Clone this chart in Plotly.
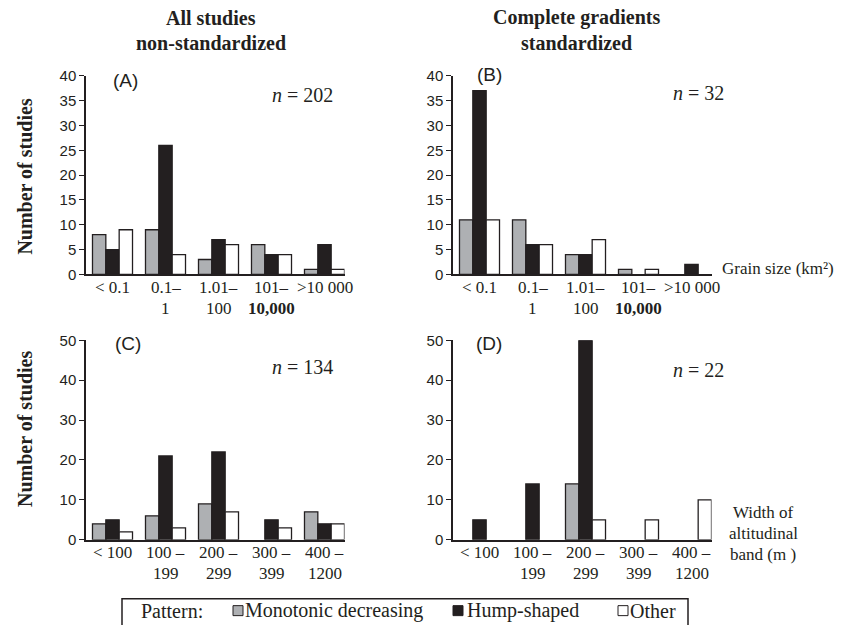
import plotly.graph_objects as go

# ---------------- data ----------------
grain_cats = ["< 0.1", "0.1–", "1.01–", "101–", ">10 000"]
grain_cats_line2 = ["", "1", "100", "<b>10,000</b>", ""]
band_cats = ["< 100", "100 –", "200 –", "300 –", "400 –"]
band_cats_line2 = ["", "199", "299", "399", "1200"]

series_names = ["Monotonic decreasing", "Hump-shaped", "Other"]

A_mono = [8, 9, 3, 6, 1]
A_hump = [5, 26, 7, 4, 6]
A_other = [9, 4, 6, 4, 1]

B_mono = [11, 11, 4, 1, 0]
B_hump = [37, 6, 4, 0, 2]
B_other = [11, 6, 7, 1, 0]

C_mono = [4, 6, 9, 0, 7]
C_hump = [5, 21, 22, 5, 4]
C_other = [2, 3, 7, 3, 4]

D_mono = [0, 0, 14, 0, 0]
D_hump = [5, 14, 50, 0, 0]
D_other = [0, 0, 5, 5, 10]

n_labels = ["202", "32", "134", "22"]
panel_labels = ["(A)", "(B)", "(C)", "(D)"]

# ---------------- style ----------------
W, H = 847, 625
GRAY = "#aeb0b3"
BLACK = "#231f20"
WHITE = "#ffffff"
colors = [GRAY, BLACK, WHITE]
SERIF = "Liberation Serif, Times New Roman, serif"
SANS = "Liberation Sans, Arial, sans-serif"
BARGAP = 0.245

# vertical calibration of the page capture
Y_OFF, Y_SCALE = 8.0, 0.975


def fx(x):
    return x / W


def fy(y):
    return 1 - ((y - Y_OFF) / Y_SCALE) / H


fig = go.Figure()

panels = [
    ("x", "y", grain_cats, grain_cats_line2, [A_mono, A_hump, A_other], 274),
    ("x2", "y2", grain_cats, grain_cats_line2, [B_mono, B_hump, B_other], 274),
    ("x3", "y3", band_cats, band_cats_line2, [C_mono, C_hump, C_other], 540),
    ("x4", "y4", band_cats, band_cats_line2, [D_mono, D_hump, D_other], 540),
]

ann = []


def text(x, y, t, size=15, family=SERIF, angle=0, xanchor="center"):
    ann.append(dict(x=fx(x), y=fy(y), xref="paper", yref="paper", text=t,
                    showarrow=False, xanchor=xanchor, yanchor="middle",
                    textangle=angle,
                    font=dict(family=family, size=size, color=BLACK)))


for xa, ya, cats, cats2, vals, base in panels:
    for name, v, c in zip(series_names, vals, colors):
        fig.add_trace(go.Bar(
            x=cats, y=[val if val else None for val in v], name=name,
            xaxis=xa, yaxis=ya, cliponaxis=False,
            marker=dict(color=c, line=dict(color=BLACK, width=1.3)),
            showlegend=False, hoverinfo="x+y+name",
        ))
    # category labels, placed on the category axis
    for c1, c2 in zip(cats, cats2):
        for t, dy in [(c1, 13), (c2, 34)]:
            if t:
                ann.append(dict(x=c1, y=fy(base + dy), xref=xa, yref="paper",
                                text=t, showarrow=False, xanchor="center",
                                yanchor="middle",
                                font=dict(family=SERIF, size=17, color=BLACK)))

# x axis ends at the right edge of the last bar group
x_end = len(grain_cats) - 1 + (1 - BARGAP) / 2
cat_px = 53.0
span_px = (x_end + 0.5) * cat_px
xdom_left = [fx(86), fx(86 + span_px)]
xdom_right = [fx(453), fx(453 + span_px)]
ydom_top = [fy(274), fy(75)]
ydom_bot = [fy(540), fy(340)]

xcommon = dict(showline=True, linecolor=BLACK, linewidth=1.5, ticks="",
               showgrid=False, zeroline=False, type="category",
               range=[-0.5, x_end], showticklabels=False, fixedrange=True)
ycommon = dict(showline=True, linecolor=BLACK, linewidth=1.5, ticks="outside",
               ticklen=5, tickwidth=1.3, tickcolor=BLACK, showgrid=False,
               zeroline=False, tickfont=dict(family=SANS, size=15, color=BLACK),
               fixedrange=True)

fig.update_layout(
    width=W, height=H,
    margin=dict(l=0, r=0, t=0, b=0),
    paper_bgcolor="white", plot_bgcolor="white",
    barmode="group", bargap=BARGAP, bargroupgap=0,
    showlegend=False,
    xaxis=dict(domain=xdom_left, anchor="y", **xcommon),
    yaxis=dict(domain=ydom_top, anchor="x", range=[0, 40], dtick=5, **ycommon),
    xaxis2=dict(domain=xdom_right, anchor="y2", **xcommon),
    yaxis2=dict(domain=ydom_top, anchor="x2", range=[0, 40], dtick=5, **ycommon),
    xaxis3=dict(domain=xdom_left, anchor="y3", **xcommon),
    yaxis3=dict(domain=ydom_bot, anchor="x3", range=[0, 50], dtick=10, **ycommon),
    xaxis4=dict(domain=xdom_right, anchor="y4", **xcommon),
    yaxis4=dict(domain=ydom_bot, anchor="x4", range=[0, 50], dtick=10, **ycommon),
)

# column titles
text(211, 17, "<b>All studies</b>", size=20)
text(211, 42, "<b>non-standardized</b>", size=20)
text(576, 17, "<b>Complete gradients</b>", size=20)
text(576, 42, "<b>standardized</b>", size=20)

# y-axis titles
text(25, 176, "<b>Number of studies</b>", size=20, angle=-90)
text(25, 429, "<b>Number of studies</b>", size=20, angle=-90)

# panel labels
for (x, y), lab in zip([(125, 80), (489, 74), (128, 343), (489, 343)], panel_labels):
    text(x, y, lab, size=19, family=SANS)

# n labels
for (x, y), n in zip([(302, 94), (698, 92), (302, 367), (698, 370)], n_labels):
    text(x, y, "<i>n</i> = " + n, size=20)

# axis side notes
text(778, 268, "Grain size (km²)", size=17)
text(763, 513, "Width of", size=17)
text(763, 534, "altitudinal", size=17)
text(763, 555, "band (m )", size=17)

# legend
text(139, 611, "Pattern:", size=20, xanchor="left")
text(243, 611, "Monotonic decreasing", size=20, xanchor="left")
text(465, 611, "Hump-shaped", size=20, xanchor="left")
text(628, 611, "Other", size=20, xanchor="left")

fig.update_layout(annotations=ann)

shapes = [
    dict(type="rect", xref="paper", yref="paper", x0=fx(122), x1=fx(688),
         y0=fy(660), y1=fy(599), line=dict(color=BLACK, width=1.5),
         fillcolor="rgba(0,0,0,0)"),
]
for x0, c in [(233, GRAY), (453, BLACK), (618, WHITE)]:
    shapes.append(dict(type="rect", xref="paper", yref="paper",
                       x0=fx(x0), x1=fx(x0 + 10), y0=fy(616), y1=fy(606),
                       line=dict(color=BLACK, width=1), fillcolor=c))
fig.update_layout(shapes=shapes)

page_fix = (
    "document.documentElement.style.margin='0';"
    "document.documentElement.style.overflow='hidden';"
    "document.body.style.margin='0';"
    "document.body.style.overflow='hidden';"
    "var gd=document.querySelector('.plotly-graph-div');"
    "gd.style.position='fixed';gd.style.left='0px';gd.style.top='0px';"
)

fig.write_html(
    "out.html",
    config={"displayModeBar": False},
    post_script=page_fix,
)
